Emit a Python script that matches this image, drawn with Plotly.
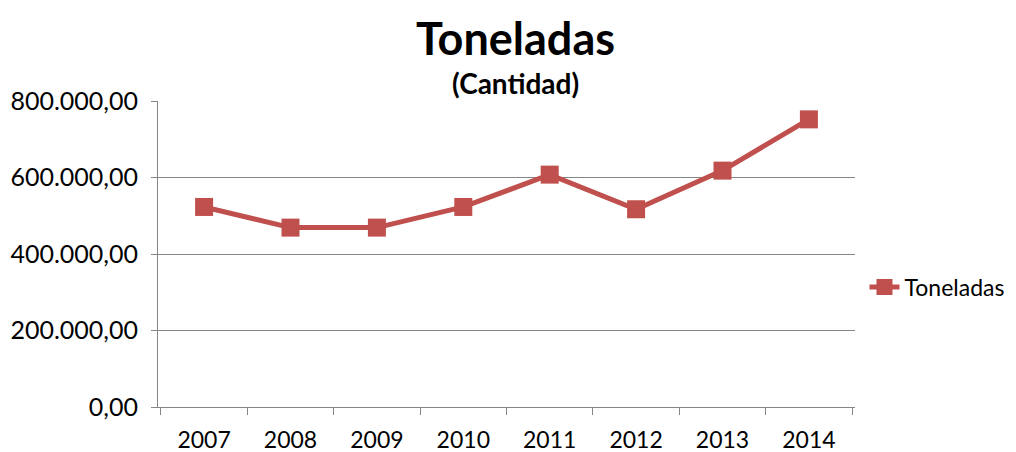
import plotly.graph_objects as go

years = ["2007", "2008", "2009", "2010", "2011", "2012", "2013", "2014"]
toneladas = [523000, 469000, 469000, 523000, 607500, 517000, 618000, 752000]
y_tick_vals = [0, 200000, 400000, 600000, 800000]
y_tick_text = ["0,00", "200.000,00", "400.000,00", "600.000,00", "800.000,00"]

FONT = "Lato, 'Open Sans', sans-serif"
RED = "#C0504D"
GRAY = "#868686"

# screen geometry (page has an 8px body margin)
TOP, BOTTOM = 101, 407
PLOT_H = BOTTOM - TOP

fig = go.Figure()
fig.add_trace(go.Scatter(
    x=years, y=toneladas, name="Toneladas", mode="lines+markers",
    line=dict(color=RED, width=5),
    marker=dict(symbol="square", size=18, color=RED),
))

fig.update_layout(
    width=1016, height=452,
    margin=dict(l=150, r=169, t=93, b=53, autoexpand=False),
    paper_bgcolor="white", plot_bgcolor="white",
    font=dict(family=FONT, color="black", size=22),
    showlegend=True,
    legend=dict(xref="container", x=0.843, y=(BOTTOM - 287) / PLOT_H,
                xanchor="left", yanchor="middle",
                font=dict(size=23, family=FONT), bgcolor="rgba(0,0,0,0)",
                itemwidth=30),
    xaxis=dict(type="category", tickson="boundaries", ticks="outside", ticklen=7,
               tickcolor=GRAY, showline=True, linecolor=GRAY, linewidth=1,
               showgrid=False, tickfont=dict(size=23), zeroline=False,
               ticklabelstandoff=12, automargin=False),
    yaxis=dict(range=[0, 800000], tickvals=y_tick_vals, ticktext=y_tick_text,
               ticks="outside", ticklen=6, tickcolor=GRAY,
               showline=True, linecolor=GRAY, linewidth=1,
               showgrid=True, gridcolor=GRAY, gridwidth=1,
               zeroline=False, tickfont=dict(size=25), ticklabelstandoff=8,
               automargin=False),
    annotations=[
        dict(text="<b>Toneladas</b>", x=0.513, y=(BOTTOM - 38) / PLOT_H,
             xref="paper", yref="paper", yanchor="middle",
             showarrow=False, font=dict(size=45, family=FONT)),
        dict(text="<b>(Cantidad)</b>", x=0.513, y=(BOTTOM - 83) / PLOT_H,
             xref="paper", yref="paper", yanchor="middle",
             showarrow=False, font=dict(size=28, family=FONT)),
    ],
)

fig.write_html("out.html")
